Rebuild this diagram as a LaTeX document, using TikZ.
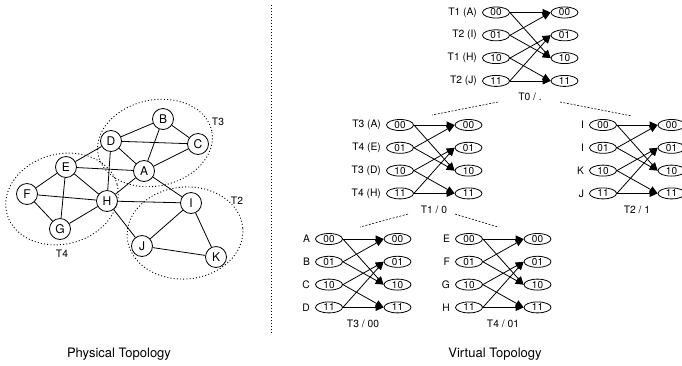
\documentclass[tikz,border=0pt]{standalone}
\usepackage{fontspec}
\setmainfont{TeX Gyre Heros}
\usetikzlibrary{positioning, arrows.meta, shapes.geometric}

\begin{document}
\begin{tikzpicture}[x=1pt, y=-1pt,
    pnode/.style={draw, circle, minimum size=21pt, inner sep=0pt, line width=0.8pt, font=\fontsize{12}{13}\selectfont},
    plink/.style={line width=0.8pt},
    region/.style={line width=0.9pt, dash pattern=on 1pt off 2.2pt},
    bit/.style={draw, ellipse, minimum width=27pt, minimum height=11pt, inner sep=0pt, line width=0.8pt, font=\fontsize{10}{10}\selectfont},
    tag/.style={font=\fontsize{10.3}{12}\selectfont, inner sep=1pt},
    vlink/.style={line width=0.8pt, -{Triangle[length=8pt,width=7pt]}},
    tree/.style={line width=0.6pt, dash pattern=on 2pt off 1.5pt},
    caption/.style={font=\fontsize{13}{15}\selectfont}]
    \useasboundingbox (0,0) rectangle (682,365);

    % physical topology
    \foreach \n/\x/\y in {A/144/171, B/163/119, C/198/144, D/111/141, E/66/167, F/27/194,
                          G/60/229, H/107/201, I/191/203, J/142/246, K/216/257}
        \node[pnode] (\n) at (\x,\y) {\n};
    \foreach \a/\b in {B/D, B/C, B/A, D/C, D/A, D/E, D/H, C/A, E/A, E/F, E/G, E/H,
                       A/H, A/I, F/H, F/G, G/H, H/I, H/J, I/J, I/K, J/K}
        \draw[plink] (\a) -- (\b);

    \draw[region, rotate around={12:(155,143)}] (155,143) ellipse [x radius=58pt, y radius=43pt];
    \draw[region, rotate around={15:(62,199)}] (62,199) ellipse [x radius=57pt, y radius=45pt];
    \draw[region, rotate around={5:(185,233)}] (185,233) ellipse [x radius=58pt, y radius=46pt];
    \node[tag] (t3tag) at (218,122) {T3};
    \node[tag] (t2tag) at (237,201) {T2};
    \node[tag] (t4tag) at (62,254) {T4};

    % separator
    \coordinate (sepa) at (271,5);
    \coordinate (sepb) at (271,333);
    \draw[line width=0.9pt, dash pattern=on 1pt off 2pt] (sepa) -- (sepb);

    % virtual topology: one butterfly per tree node
    \foreach \blk/\bx/\by/\la/\lb/\lc/\ld/\ttl in {
            t0/496/12.5/T1 (A)/T2 (I)/T1 (H)/T2 (J)/{T0 / .},
            t1/400/125/T3 (A)/T4 (E)/T3 (D)/T4 (H)/{T1 / 0},
            t2/603/125/I/I/K/J/{T2 / 1},
            t3/329/239/A/B/C/D/{T3 / 00},
            t4/469/239/E/F/G/H/{T4 / 01}} {
        \foreach \r/\bits/\lab in {0/00/\la, 1/01/\lb, 2/10/\lc, 3/11/\ld} {
            \node[bit] (\blk l\r) at (\bx,\by+\r*22.8) {\bits};
            \node[bit] (\blk r\r) at (\bx+68.5,\by+\r*22.8) {\bits};
            \node[tag, left=4pt of \blk l\r] (\blk n\r) {\lab};
        }
        \foreach \a/\b in {0/0, 0/2, 1/0, 1/2, 2/1, 2/3, 3/1, 3/3}
            \draw[vlink] (\blk l\a.east) -- (\blk r\b.west);
        \node[tag] (\blk t) at (\bx+34,\by+3*22.8+16) {\ttl};
    }

    % tree edges
    \coordinate (t0a) at (498,102);
    \coordinate (t0b) at (560,102);
    \coordinate (t1a) at (408,214);
    \coordinate (t1b) at (455,214);
    \coordinate (t1top) at (432,115);
    \coordinate (t2top) at (632,116);
    \coordinate (t3top) at (360,227);
    \coordinate (t4top) at (498,227);
    \draw[tree] (t0a) -- (t1top);
    \draw[tree] (t0b) -- (t2top);
    \draw[tree] (t1a) -- (t3top);
    \draw[tree] (t1b) -- (t4top);

    \node[caption] (phys) at (119,354) {Physical Topology};
    \node[caption] (virt) at (495,354) {Virtual Topology};
\end{tikzpicture}
\end{document}
